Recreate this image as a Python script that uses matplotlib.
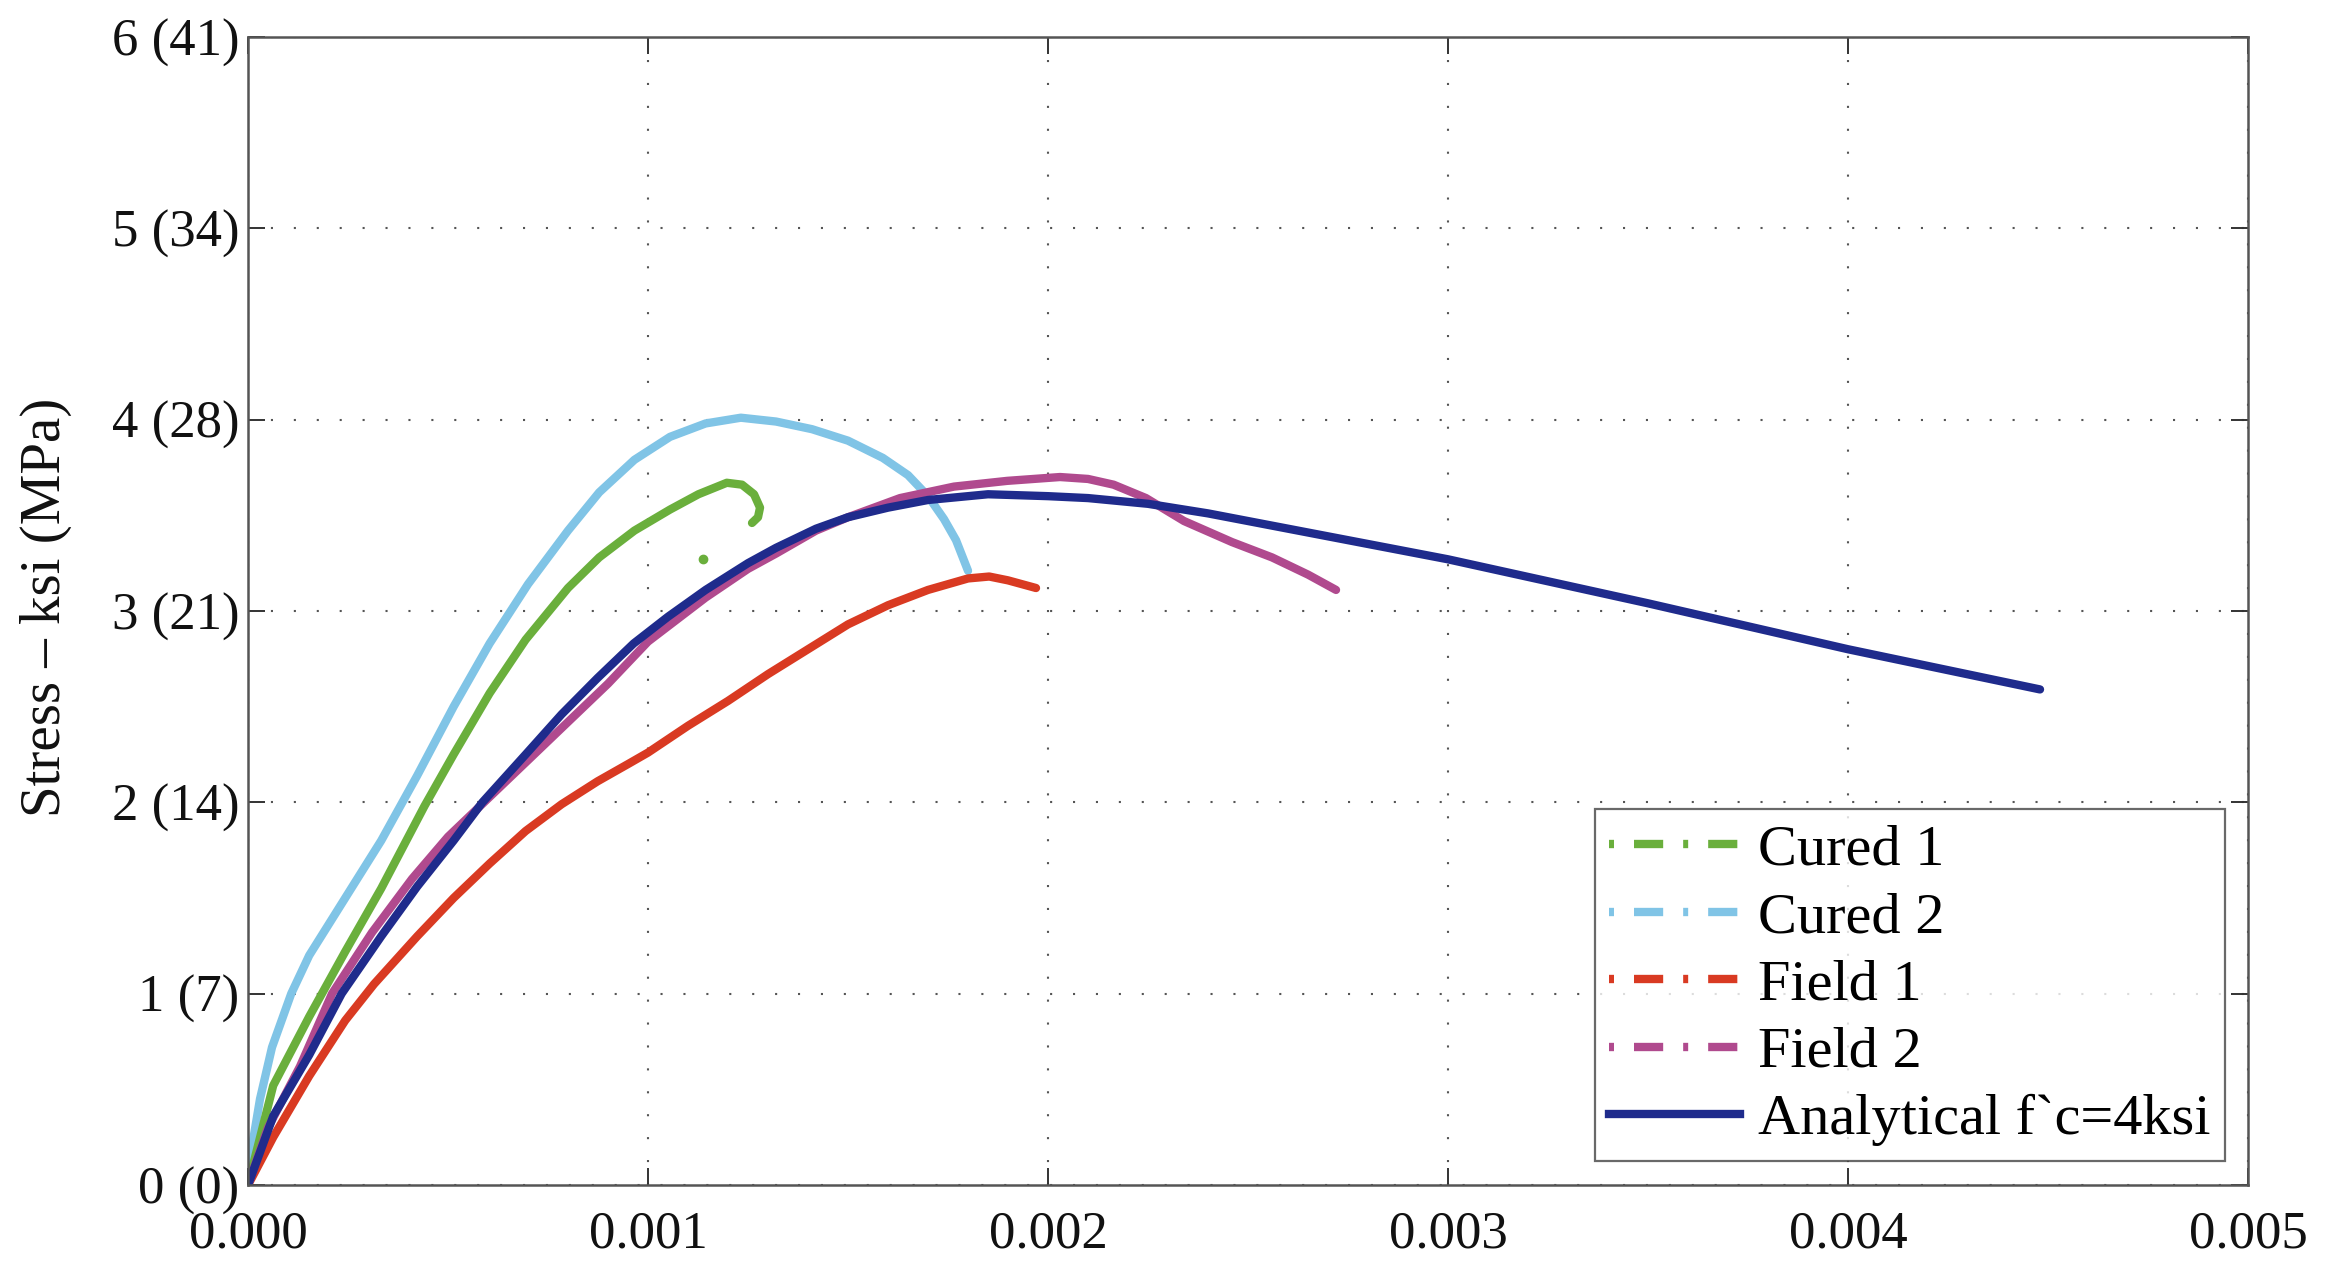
import matplotlib
matplotlib.use("Agg")
import matplotlib.pyplot as plt
from matplotlib.lines import Line2D

plt.rcParams['font.family'] = ['Liberation Serif', 'DejaVu Serif']

# strain in units of 0.001, stress in ksi
cured1_x = [0, 0.063, 0.153, 0.243, 0.333, 0.441, 0.514, 0.604, 0.694, 0.8, 0.878, 0.966, 1.055,
            1.126, 1.197, 1.235, 1.265, 1.28, 1.275, 1.26]
cured1_y = [0, 0.52, 0.88, 1.22, 1.55, 1.98, 2.25, 2.57, 2.85, 3.12, 3.28, 3.42, 3.53,
            3.61, 3.67, 3.66, 3.61, 3.54, 3.49, 3.46]
cured1_dot = (1.137, 3.27)

cured2_x = [0, 0.01, 0.03, 0.06, 0.108, 0.153, 0.243, 0.333, 0.423, 0.514, 0.604, 0.7, 0.8, 0.878,
            0.966, 1.055, 1.144, 1.232, 1.32, 1.41, 1.5, 1.587, 1.65, 1.7, 1.74, 1.77, 1.80]
cured2_y = [0, 0.2, 0.45, 0.72, 1.0, 1.2, 1.5, 1.8, 2.14, 2.5, 2.83, 3.14, 3.42, 3.62,
            3.79, 3.91, 3.98, 4.01, 3.99, 3.95, 3.89, 3.80, 3.71, 3.60, 3.48, 3.37, 3.21]

field1_x = [0, 0.063, 0.153, 0.243, 0.315, 0.423, 0.514, 0.604, 0.694, 0.784, 0.874, 0.95, 1.0,
            1.1, 1.2, 1.3, 1.4, 1.5, 1.6, 1.7, 1.8, 1.853, 1.9, 1.97]
field1_y = [0, 0.25, 0.57, 0.86, 1.05, 1.30, 1.50, 1.68, 1.85, 1.99, 2.11, 2.2, 2.26,
            2.40, 2.53, 2.67, 2.80, 2.93, 3.03, 3.11, 3.17, 3.18, 3.16, 3.12]

field2_x = [0, 0.05, 0.13, 0.21, 0.31, 0.41, 0.5, 0.6, 0.7, 0.8, 0.9, 1.0, 1.144, 1.25, 1.32,
            1.42, 1.5, 1.63, 1.765, 1.898, 2.03, 2.1, 2.164, 2.245, 2.34, 2.46, 2.56, 2.65, 2.72]
field2_y = [0, 0.3, 0.62, 1.0, 1.32, 1.6, 1.82, 2.02, 2.22, 2.42, 2.62, 2.84, 3.07, 3.22, 3.30,
            3.42, 3.49, 3.59, 3.65, 3.68, 3.70, 3.69, 3.66, 3.59, 3.47, 3.36, 3.28, 3.19, 3.11]

anal_x = [0, 0.063, 0.153, 0.234, 0.333, 0.423, 0.514, 0.586, 0.694, 0.784, 0.874, 0.964, 1.05,
          1.144, 1.25, 1.32, 1.42, 1.5, 1.6, 1.7, 1.85, 2.0, 2.1, 2.25, 2.4, 2.6, 2.8, 3.0,
          3.5, 4.0, 4.48]
anal_y = [0, 0.36, 0.68, 1.0, 1.3, 1.56, 1.80, 2.0, 2.25, 2.46, 2.65, 2.83, 2.97,
          3.11, 3.25, 3.33, 3.43, 3.49, 3.54, 3.58, 3.61, 3.60, 3.59, 3.56, 3.51, 3.43, 3.35, 3.27,
          3.04, 2.80, 2.59]

x_ticks = [0, 0.001, 0.002, 0.003, 0.004, 0.005]
x_labels = ["0.000", "0.001", "0.002", "0.003", "0.004", "0.005"]
y_ticks = [0, 1, 2, 3, 4, 5, 6]
y_labels = ["0 (0)", "1 (7)", "2 (14)", "3 (21)", "4 (28)", "5 (34)", "6 (41)"]

names = ["Cured 1", "Cured 2", "Field 1", "Field 2", "Analytical f`c=4ksi"]
colors = ["#6aaf3c", "#80c4e6", "#d93a22", "#b04a8e", "#1f2b8c"]


def s(xs):
    return [v / 1000 for v in xs]


fig = plt.figure(figsize=(23.31, 12.73), dpi=100)
ax = fig.add_axes([0.1064, 0.0691, 0.858, 0.9019])

lw = 6
style = dict(lw=lw, solid_capstyle='round', solid_joinstyle='round')
ax.plot(s(cured2_x), cured2_y, color=colors[1], **style)
ax.plot(s(cured1_x), cured1_y, color=colors[0], **style)
ax.plot([cured1_dot[0] / 1000], [cured1_dot[1]], 'o', color=colors[0], ms=6)
ax.plot(s(field1_x), field1_y, color=colors[2], **style)
ax.plot(s(field2_x), field2_y, color=colors[3], **style)
ax.plot(s(anal_x), anal_y, color=colors[4], **style)

ax.set_xlim(0, 0.005)
ax.set_ylim(0, 6)
ax.set_xticks(x_ticks)
ax.set_xticklabels(x_labels)
ax.set_yticks(y_ticks)
ax.set_yticklabels(y_labels)
ax.tick_params(direction='in', length=12, width=1.4, labelsize=38, top=True, right=True,
               colors='#333333', labelcolor='#111111', pad=6)
ax.tick_params(axis='x', pad=18)
ax.grid(True, linestyle=(0, (1, 10)), color='#555555', linewidth=1.5)
for sp in ax.spines.values():
    sp.set_color('#555555')
    sp.set_linewidth(1.8)

ax.set_ylabel("Stress – ksi (MPa)", fontsize=41, color='#111111')
ax.yaxis.set_label_coords(-0.088, 0.503)

dashdot = (0, (0.6, 2.4, 3.5, 2.4))
handles = [Line2D([], [], color=c, lw=lw, linestyle=dashdot) for c in colors[:4]]
handles.append(Line2D([], [], color=colors[4], lw=lw))
leg = ax.legend(handles, names, loc='lower right', bbox_to_anchor=(0.9885, 0.021),
                borderaxespad=0, fontsize=42, frameon=True, fancybox=False,
                handlelength=2.25, handletextpad=0.3, labelspacing=0.25, borderpad=0.25)
leg.get_frame().set_edgecolor('#444444')
leg.get_frame().set_linewidth(1.6)

fig.savefig("out.png", dpi=100)
